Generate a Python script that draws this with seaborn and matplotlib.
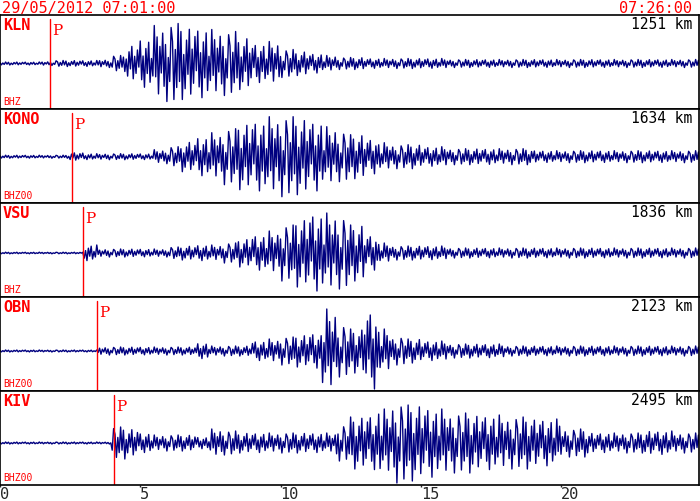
"""
Seismogram panels for the 29/05/2012 event, five stations stacked.
"""

import numpy as np
import pandas as pd
import matplotlib
matplotlib.use("Agg")
import matplotlib.pyplot as plt
import seaborn as sns


# ═══════════════════════════════════════════════════════════════════════
# Data
# ═══════════════════════════════════════════════════════════════════════

start_label = "29/05/2012 07:01:00"
end_label = "07:26:00"

stations = ["KLN", "KONO", "VSU", "OBN", "KIV"]
distances = ["1251 km", "1634 km", "1836 km", "2123 km", "2495 km"]
channels = ["BHZ", "BHZ00", "BHZ", "BHZ00", "BHZ00"]
p_arrivals = [1.78, 2.57, 2.96, 3.46, 4.07]  # minutes after 07:01

# peak amplitude (screen pixels) in half-minute bins, 0 .. 25 min
env_kln = [1.5, 1.5, 1.5, 2, 3, 3, 3, 4, 8, 18,
           25, 38, 40, 36, 36, 34, 32, 26, 20, 22,
           14, 12, 10, 8, 6, 6, 5, 5, 5, 5,
           5, 5, 4, 4, 4, 4, 4, 4, 4, 4,
           4, 4, 4, 4, 4, 4, 4, 4, 4, 4]
env_kono = [1.5, 1.5, 1.5, 1.5, 1.5, 4, 3, 3, 3, 3,
            3, 7, 10, 15, 20, 24, 28, 33, 36, 40,
            40, 38, 36, 30, 25, 22, 18, 14, 12, 12,
            10, 10, 8, 8, 8, 8, 8, 8, 6, 6,
            6, 6, 6, 6, 6, 6, 6, 6, 6, 6]
env_vsu = [0.8, 0.8, 0.8, 0.8, 0.8, 0.8, 8, 4, 4, 4,
           4, 4, 6, 7, 8, 8, 10, 14, 18, 22,
           28, 34, 40, 40, 36, 28, 18, 10, 7, 7,
           7, 7, 5, 5, 5, 5, 5, 5, 5, 5,
           5, 5, 5, 5, 5, 5, 5, 5, 5, 5]
env_obn = [1, 1, 1, 1, 1, 1, 1, 4, 4, 4,
           4, 4, 4, 4, 8, 5, 5, 5, 10, 12,
           14, 16, 18, 42, 26, 22, 40, 22, 14, 12,
           10, 10, 7, 7, 7, 7, 5, 5, 5, 5,
           5, 5, 5, 5, 5, 5, 5, 5, 5, 5]
env_kiv = [1, 1, 1, 1, 1, 1, 1, 1, 16, 14,
           10, 8, 8, 8, 6, 14, 12, 10, 10, 10,
           10, 10, 10, 10, 18, 26, 28, 34, 40, 38,
           36, 34, 30, 30, 28, 28, 26, 26, 24, 24,
           14, 14, 10, 10, 10, 10, 12, 12, 10, 10]

# relative swing of successive samples inside a bin
wiggle = [0.55, -0.9, 0.35, -0.6, 1.0, -0.45, 0.8, -1.0, 0.25, -0.7,
          0.65, -0.3, 0.95, -0.85, 0.4, -0.55, 0.75, -0.2, 0.9, -0.65,
          0.3, -0.95, 0.6, -0.4, 0.85, -0.75, 0.2, -0.5, 1.0, -0.35,
          0.7, -0.8, 0.45, -0.25, 0.8, -0.6, 0.5, -1.0, 0.15, -0.45, 0.9]

envelopes = [env_kln, env_kono, env_vsu, env_obn, env_kiv]


# ═══════════════════════════════════════════════════════════════════════
# Style
# ═══════════════════════════════════════════════════════════════════════

sns.set_style("white")
plt.rcParams["font.family"] = ["DejaVu Sans Mono"]

RED = "#ff0000"
TRACE = "#000080"
W, H = 700, 501
HEADER = 15
PANEL = 94
X_RIGHT = 699
PX_PER_MIN = 28.05
SAMPLES_PER_BIN = 10
BASE_SHIFT = [1.5, 0.7, 3, 7, 5]  # baseline sits a little below centre


def build_trace(env):
    amp = np.repeat(np.asarray(env, dtype=float), SAMPLES_PER_BIN)
    n = len(amp)
    w = np.resize(np.asarray(wiggle), n)
    t = np.arange(n) * 0.5 / SAMPLES_PER_BIN
    return pd.DataFrame({"time": t, "amp": amp * w})


fig = plt.figure(figsize=(W / 100, H / 100), dpi=100)

fig.text(2 / W, 1 - 1 / H, start_label, color=RED, fontsize=11,
         ha="left", va="top")
fig.text(692 / W, 1 - 1 / H, end_label, color=RED, fontsize=11,
         ha="right", va="top")

xmax = X_RIGHT / PX_PER_MIN

for i, name in enumerate(stations):
    top = HEADER + i * PANEL
    ax = fig.add_axes([0, 1 - (top + PANEL) / H, X_RIGHT / W, PANEL / H])
    df = build_trace(envelopes[i])
    sns.lineplot(data=df, x="time", y="amp", ax=ax, color=TRACE,
                 linewidth=1.0, sort=False, estimator=None)

    s = BASE_SHIFT[i]
    half = PANEL / 2
    ax.set_ylim(-(half - s), half + s)
    ax.set_xlim(0, xmax)

    ax.axvline(p_arrivals[i], ymin=0, ymax=1 - 4 / PANEL, color=RED,
               linewidth=1.0)
    ax.annotate("P", xy=(p_arrivals[i], 1), xycoords=("data", "axes fraction"),
                xytext=(2, -9), textcoords="offset pixels", color=RED,
                fontsize=11, family="DejaVu Serif", ha="left", va="top")

    ax.annotate(name, xy=(0, 1), xycoords="axes fraction", xytext=(3, -3),
                textcoords="offset pixels", color=RED, fontsize=11,
                fontweight="bold", ha="left", va="top")
    ax.annotate(distances[i], xy=(1, 1), xycoords="axes fraction",
                xytext=(-7, -2), textcoords="offset pixels", color="black",
                fontsize=10.5, ha="right", va="top")
    ax.annotate(channels[i], xy=(0, 0), xycoords="axes fraction",
                xytext=(3, 2), textcoords="offset pixels", color=RED,
                fontsize=7, ha="left", va="bottom")

    for sp in ax.spines.values():
        sp.set_color("black")
        sp.set_linewidth(1.2)
        sp.set_visible(True)
    ax.set_xlabel("")
    ax.set_ylabel("")
    ax.set_yticks([])

    if i == len(stations) - 1:
        ax.set_xticks([0, 5, 10, 15, 20])
        ax.set_xticklabels(["0", "5", "10", "15", "20"])
        ax.tick_params(axis="x", direction="out", length=1.5, width=1,
                       pad=0, labelsize=11, bottom=True)
        for lbl in ax.get_xticklabels():
            lbl.set_ha("left")
    else:
        ax.set_xticks([])

fig.savefig("out.png", dpi=100)
